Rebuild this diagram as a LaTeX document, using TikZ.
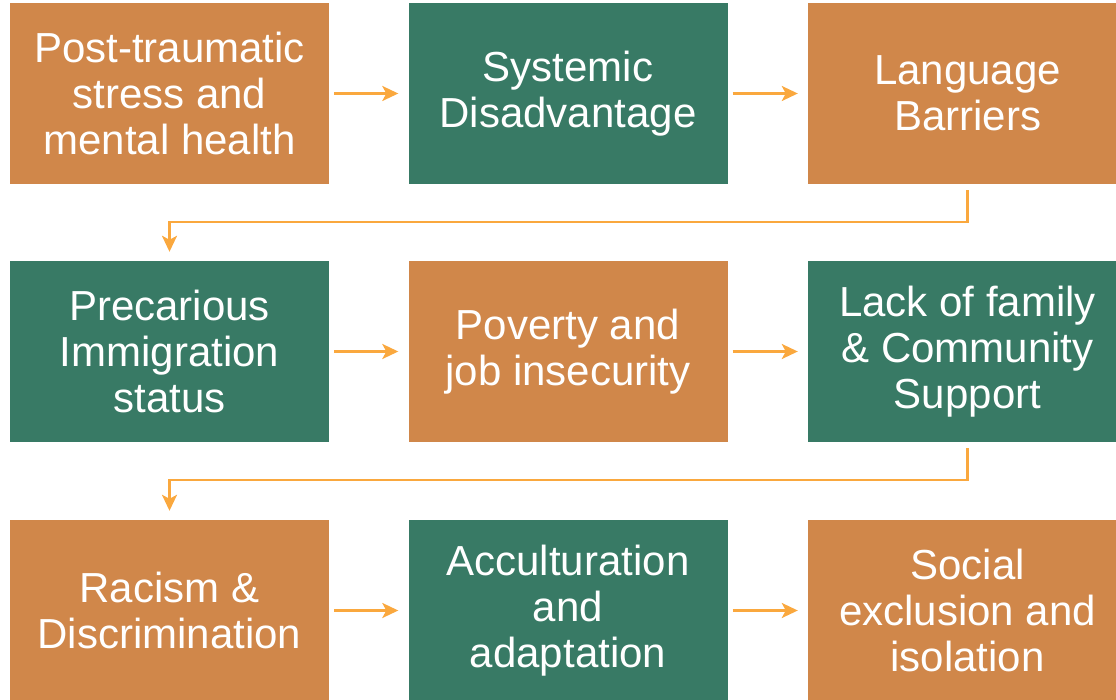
\documentclass[tikz,border=0pt]{standalone}
\usepackage{fontspec}
\setmainfont{Liberation Sans}
\usetikzlibrary{arrows.meta}
\definecolor{boxorange}{HTML}{D0874A}
\definecolor{boxgreen}{HTML}{387A65}
\definecolor{flow}{HTML}{FAA83E}
\begin{document}
\begin{tikzpicture}[x=1pt,y=-1pt,
  box/.style={minimum width=319pt,minimum height=181pt,inner sep=0pt,
    text=white,align=center,font=\fontsize{42}{46}\selectfont},
  obox/.style={box,fill=boxorange},
  gbox/.style={box,fill=boxgreen},
  flowline/.style={draw=flow,line width=2.5pt,-{Stealth[length=16pt,width=15pt,inset=4pt]}},
  hop/.style={flowline,shorten <=5pt,shorten >=10pt},
  turn/.style={flowline,shorten <=6pt,shorten >=9pt}]
\useasboundingbox (0,0) rectangle (1116,700);
\clip (0,0) rectangle (1116,700);
% first row
\node[obox] (a1) at (169.5,93.5) {Post-traumatic\\stress and\\mental health};
\node[gbox] (a2) at (568,93.5) {Systemic\\Disadvantage};
\node[obox] (a3) at (967.5,93.5) {Language\\Barriers};
% second row
\node[gbox] (b1) at (169.5,351.5) {Precarious\\Immigration\\status};
\node[obox] (b2) at (568,351.5) {Poverty and\\job insecurity};
\node[gbox] (b3) at (967.5,351.5) {Lack of family\\\& Community\\Support};
% third row
\node[obox] (c1) at (169.5,610.5) {Racism \&\\Discrimination};
\node[gbox] (c2) at (568,610.5) {Acculturation\\and\\adaptation};
\node[obox] (c3) at (967.5,610.5) {Social\\exclusion and\\isolation};
% connectors
\draw[hop] (a1) -- (a2);
\draw[hop] (a2) -- (a3);
\draw[hop] (b1) -- (b2);
\draw[hop] (b2) -- (b3);
\draw[hop] (c1) -- (c2);
\draw[hop] (c2) -- (c3);
\draw[turn] (a3.south) -- ++(0,38) -| (b1.north);
\draw[turn] (b3.south) -- ++(0,38) -| (c1.north);
\end{tikzpicture}
\end{document}
